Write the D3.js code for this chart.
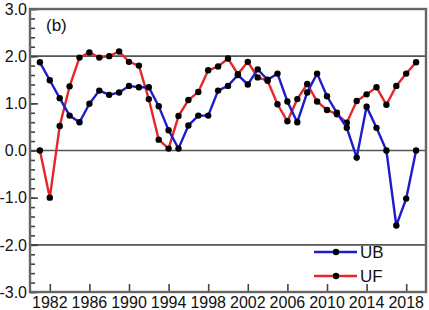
<!DOCTYPE html>
<html>
<head>
    <meta charset="utf-8">
    <title>UF / UB</title>
    <script type="text/javascript" src="https://cdn.jsdelivr.net/npm/d3@7"></script>
    <style>
        body { margin: 0; background: #fff; }
        text { font-family: Arial, "Liberation Sans", sans-serif; fill: #111; }
    </style>
</head>
<body>
<script type="text/javascript">
    // data (b)
    var years = [1981, 1982, 1983, 1984, 1985, 1986, 1987, 1988, 1989, 1990,
                 1991, 1992, 1993, 1994, 1995, 1996, 1997, 1998, 1999, 2000,
                 2001, 2002, 2003, 2004, 2005, 2006, 2007, 2008, 2009, 2010,
                 2011, 2012, 2013, 2014, 2015, 2016, 2017, 2018, 2019];

    var ub = [1.87, 1.49, 1.11, 0.74, 0.60, 0.99, 1.27, 1.18, 1.23, 1.37,
              1.34, 1.34, 0.94, 0.43, 0.04, 0.53, 0.74, 0.74, 1.27, 1.37,
              1.60, 1.40, 1.72, 1.50, 1.63, 1.04, 0.60, 1.23, 1.63, 1.15,
              0.80, 0.48, -0.15, 0.93, 0.48, 0.00, -1.59, -1.02, 0.00];

    var uf = [0.00, -1.00, 0.52, 1.36, 1.97, 2.08, 1.97, 2.00, 2.10, 1.88,
              1.80, 1.09, 0.23, 0.04, 0.73, 1.07, 1.24, 1.70, 1.78, 1.95,
              1.62, 1.88, 1.55, 1.48, 0.98, 0.62, 1.09, 1.41, 1.04, 0.86,
              0.77, 0.59, 1.05, 1.19, 1.34, 0.97, 1.37, 1.63, 1.87];

    var xTicks = [1982, 1986, 1990, 1994, 1998, 2002, 2006, 2010, 2014, 2018];
    var yTicks = [-3, -2, -1, 0, 1, 2, 3];
    var gridLevels = [-2, 0, 2];

    var _width = 429, _height = 310;
    var _margins = {top: 9, left: 30, right: 3, bottom: 18};
    var x0 = _margins.left, x1 = _width - _margins.right,
        y0 = _margins.top, y1 = _height - _margins.bottom;

    var svg = d3.select("body").append("svg")
            .attr("width", _width)
            .attr("height", _height);

    var x = d3.scaleLinear().domain([1980, 2020]).range([x0, x1]);
    var y = d3.scaleLinear().domain([-3, 3]).range([y1, y0]);

    // horizontal reference lines at -2, 0, 2
    svg.append("g").selectAll("line")
            .data(gridLevels)
        .enter().append("line")
            .attr("x1", x0).attr("x2", x1)
            .attr("y1", function (d) { return y(d); })
            .attr("y2", function (d) { return y(d); })
            .style("stroke", "#555")
            .style("stroke-width", 1.6);

    // y axis: majors every 1, minors every 0.2, ticks point inward
    var yAxis = d3.axisRight(y)
            .tickValues(yTicks)
            .tickSize(8)
            .tickFormat("");
    var yMinor = d3.axisRight(y)
            .tickValues(d3.range(-3, 3.01, 0.2))
            .tickSize(5)
            .tickFormat("");

    svg.append("g").attr("transform", "translate(" + x0 + ",0)").call(yMinor);
    svg.append("g").attr("transform", "translate(" + x0 + ",0)").call(yAxis);

    svg.append("g").selectAll("text")
            .data(yTicks)
        .enter().append("text")
            .attr("x", x0 - 3)
            .attr("y", function (d) { return y(d); })
            .attr("dy", "0.36em")
            .attr("text-anchor", "end")
            .style("font-size", "16px")
            .text(function (d) { return d3.format(".1f")(d).replace("\u2212", "-"); });

    // x axis along the bottom, ticks pointing up
    var xAxis = d3.axisTop(x)
            .tickValues(xTicks)
            .tickSize(8)
            .tickFormat("");
    svg.append("g").attr("transform", "translate(0," + y1 + ")").call(xAxis);

    svg.append("g").selectAll("text")
            .data(xTicks)
        .enter().append("text")
            .attr("x", function (d) { return x(d); })
            .attr("y", y1 + 16)
            .attr("text-anchor", "middle")
            .style("font-size", "16px")
            .text(function (d) { return d; });

    svg.selectAll(".domain").remove();
    svg.selectAll(".tick line")
            .style("stroke", "#444")
            .style("stroke-width", 1.6);

    // frame
    svg.append("rect")
            .attr("x", x0).attr("y", y0)
            .attr("width", x1 - x0).attr("height", y1 - y0)
            .style("fill", "none")
            .style("stroke", "#666")
            .style("stroke-width", 2.4);

    // series
    var line = d3.line()
            .x(function (d, i) { return x(years[i]); })
            .y(function (d) { return y(d); });

    function drawSeries(values, color) {
        svg.append("path")
                .datum(values)
                .attr("d", line)
                .style("fill", "none")
                .style("stroke", color)
                .style("stroke-width", 2.4);
        svg.append("g").selectAll("circle")
                .data(values)
            .enter().append("circle")
                .attr("cx", function (d, i) { return x(years[i]); })
                .attr("cy", function (d) { return y(d); })
                .attr("r", 3.2)
                .style("fill", "#000");
    }

    drawSeries(uf, "#e8262a");
    drawSeries(ub, "#1c1ccc");

    // panel label
    svg.append("text")
            .attr("x", 46).attr("y", 31)
            .style("font-size", "17px")
            .text("(b)");

    // legend
    var legend = [{name: "UB", color: "#1c1ccc"}, {name: "UF", color: "#e8262a"}];
    var lg = svg.append("g").selectAll("g")
            .data(legend)
        .enter().append("g")
            .attr("transform", function (d, i) { return "translate(314," + (252 + i * 24) + ")"; });
    lg.append("line")
            .attr("x1", 0).attr("x2", 43)
            .style("stroke", function (d) { return d.color; })
            .style("stroke-width", 2.4);
    lg.append("circle").attr("cx", 22).attr("r", 3.2).style("fill", "#000");
    lg.append("text")
            .attr("x", 46).attr("dy", "0.36em")
            .style("font-size", "17px")
            .text(function (d) { return d.name; });
</script>
</body>
</html>
